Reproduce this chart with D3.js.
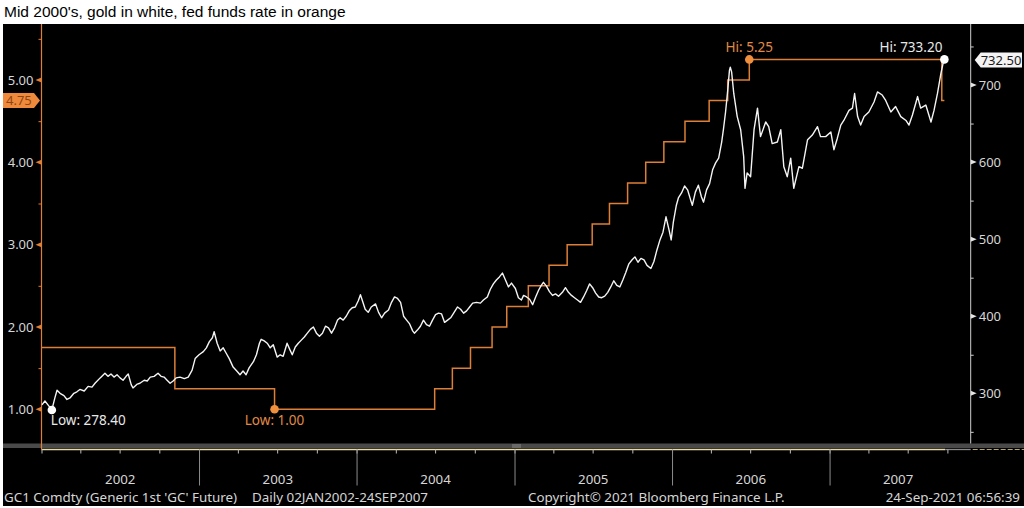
<!DOCTYPE html>
<html><head><meta charset="utf-8">
<script src="https://cdn.jsdelivr.net/npm/d3@7"></script>
<style>html,body{margin:0;padding:0;background:#fff;overflow:hidden}</style>
</head><body><svg id="c" width="1024" height="508"></svg>
<script>
const titleText = "Mid 2000's, gold in white, fed funds rate in orange";

const goldSeries = [
["2002-01-02",285],["2002-01-09",290],["2002-01-16",285],["2002-01-25",278.4],["2002-02-01",294],["2002-02-06",304],
["2002-02-13",300],["2002-02-22",297],["2002-03-01",292],["2002-03-08",294],["2002-03-17",300],["2002-03-24",302],
["2002-03-31",305],["2002-04-10",303],["2002-04-19",309],["2002-04-28",308],["2002-05-05",313],["2002-05-17",320],
["2002-05-28",326],["2002-06-04",322],["2002-06-11",325],["2002-06-18",321],["2002-06-25",324],["2002-07-02",320],
["2002-07-09",317],["2002-07-16",322],["2002-07-21",325],["2002-07-28",311],["2002-08-01",307],["2002-08-11",312],
["2002-08-17",313],["2002-08-27",317],["2002-09-03",316],["2002-09-10",321],["2002-09-19",322],["2002-09-28",326],
["2002-10-05",322],["2002-10-12",321],["2002-10-19",317],["2002-10-26",313],["2002-11-02",316],["2002-11-09",320],
["2002-11-18",321],["2002-11-28",319],["2002-12-07",321],["2002-12-16",330],["2002-12-23",345],
["2003-01-01",350],["2003-01-11",354],["2003-01-18",359],["2003-01-25",367],["2003-02-01",372],["2003-02-05",380],
["2003-02-12",365],["2003-02-19",355],["2003-02-26",359],["2003-03-05",352],["2003-03-12",345],["2003-03-21",334],
["2003-03-31",328],["2003-04-06",324],["2003-04-13",329],["2003-04-20",324],["2003-04-27",333],["2003-05-07",341],
["2003-05-14",350],["2003-05-21",365],["2003-05-25",370],["2003-06-01",368],["2003-06-08",365],["2003-06-15",359],
["2003-06-22",363],["2003-07-01",347],["2003-07-08",350],["2003-07-15",348],["2003-07-24",365],["2003-07-31",356],
["2003-08-05",350],["2003-08-12",360],["2003-08-19",365],["2003-08-26",369],["2003-09-02",373],["2003-09-09",378],
["2003-09-16",383],["2003-09-23",386],["2003-09-30",378],["2003-10-07",374],["2003-10-14",378],["2003-10-21",387],
["2003-10-28",385],["2003-11-04",378],["2003-11-11",385],["2003-11-18",395],["2003-11-24",398],["2003-12-01",395],
["2003-12-08",400],["2003-12-15",407],["2003-12-22",411],["2003-12-29",412],
["2004-01-05",420],["2004-01-10",428],["2004-01-14",421],["2004-01-21",409],["2004-01-28",405],["2004-02-04",412],
["2004-02-14",416],["2004-02-21",405],["2004-02-28",398],["2004-03-06",404],["2004-03-15",408],["2004-03-22",418],
["2004-03-29",425],["2004-04-05",423],["2004-04-12",418],["2004-04-19",400],["2004-04-26",395],["2004-05-03",390],
["2004-05-10",381],["2004-05-14",378],["2004-05-21",382],["2004-05-28",387],["2004-06-04",395],["2004-06-11",389],
["2004-06-18",387],["2004-06-25",395],["2004-07-02",402],["2004-07-09",404],["2004-07-16",403],["2004-07-23",392],
["2004-07-30",395],["2004-08-06",398],["2004-08-13",404],["2004-08-22",412],["2004-08-29",409],["2004-09-05",404],
["2004-09-12",407],["2004-09-19",412],["2004-09-26",417],["2004-10-05",418],["2004-10-14",417],["2004-10-21",421],
["2004-10-30",425],["2004-11-06",435],["2004-11-13",442],["2004-11-20",447],["2004-11-27",451],["2004-12-04",456],
["2004-12-11",447],["2004-12-18",438],["2004-12-25",443],
["2005-01-03",436],["2005-01-10",424],["2005-01-17",421],["2005-01-22",427],["2005-01-29",425],["2005-02-05",422],
["2005-02-12",415],["2005-02-19",425],["2005-02-26",434],["2005-03-04",440],["2005-03-09",444],["2005-03-16",439],
["2005-03-23",432],["2005-03-30",427],["2005-04-06",429],["2005-04-13",426],["2005-04-22",431],["2005-04-29",437],
["2005-05-06",431],["2005-05-13",427],["2005-05-20",424],["2005-05-27",421],["2005-06-03",418],["2005-06-10",425],
["2005-06-17",433],["2005-06-24",442],["2005-07-01",437],["2005-07-08",430],["2005-07-15",425],["2005-07-22",424],
["2005-07-29",426],["2005-08-05",431],["2005-08-12",438],["2005-08-19",446],["2005-08-26",440],["2005-09-02",438],
["2005-09-09",447],["2005-09-16",457],["2005-09-23",468],["2005-09-30",473],["2005-10-07",477],["2005-10-14",470],
["2005-10-21",475],["2005-10-28",473],["2005-11-04",466],["2005-11-13",462],["2005-11-20",471],["2005-11-27",486],
["2005-12-04",499],["2005-12-11",509],["2005-12-18",529],["2005-12-25",512],["2005-12-30",499],
["2006-01-04",522],["2006-01-11",544],["2006-01-16",554],["2006-01-23",560],["2006-01-30",569],["2006-02-06",564],
["2006-02-13",551],["2006-02-17",544],["2006-02-24",561],["2006-03-03",570],["2006-03-10",555],["2006-03-15",548],
["2006-03-22",564],["2006-03-29",572],["2006-04-05",590],["2006-04-12",599],["2006-04-19",605],["2006-04-26",626],
["2006-04-30",642],["2006-05-05",665],["2006-05-10",693],["2006-05-14",719],["2006-05-16",723],["2006-05-19",717],
["2006-05-24",689],["2006-06-01",659],["2006-06-09",642],["2006-06-16",607],["2006-06-19",566],["2006-06-24",586],
["2006-07-02",581],["2006-07-10",642],["2006-07-18",670],["2006-07-25",633],["2006-08-06",652],["2006-08-13",646],
["2006-08-21",624],["2006-09-02",626],["2006-09-10",642],["2006-09-17",594],["2006-09-25",581],["2006-10-03",605],
["2006-10-10",566],["2006-10-22",594],["2006-10-30",592],["2006-11-11",629],["2006-11-22",635],["2006-12-04",646],
["2006-12-11",633],["2006-12-23",633],
["2007-01-04",639],["2007-01-11",616],["2007-01-19",631],["2007-01-27",648],["2007-02-03",654],["2007-02-15",667],
["2007-02-23",670],["2007-02-28",689],["2007-03-07",659],["2007-03-14",648],["2007-03-22",659],["2007-04-02",665],
["2007-04-14",678],["2007-04-22",691],["2007-05-03",687],["2007-05-11",680],["2007-05-23",665],["2007-06-03",672],
["2007-06-15",659],["2007-06-27",654],["2007-07-04",648],["2007-07-12",661],["2007-07-24",685],["2007-07-31",670],
["2007-08-12",674],["2007-08-24",652],["2007-08-31",667],["2007-09-08",689],["2007-09-16",715],["2007-09-21",728],
["2007-09-24",732.5]
];

const fedDates = ["2002-01-01","2002-11-06","2003-06-25","2004-06-30","2004-08-10","2004-09-21","2004-11-10","2004-12-14",
"2005-02-02","2005-03-22","2005-05-03","2005-06-30","2005-08-09","2005-09-20","2005-11-01","2005-12-13",
"2006-01-31","2006-03-28","2006-05-10","2006-06-29","2007-09-18","2007-09-24"];
const fedRates = [1.75,1.25,1.00,1.25,1.50,1.75,2.00,2.25,2.50,2.75,3.00,3.25,3.50,3.75,4.00,4.25,4.50,4.75,5.00,5.25,4.75,4.75];

const leftTicks = [1,2,3,4,5];
const leftMinor = [1.5,2.5,3.5,4.5,5.5];
const rightTicks = [300,400,500,600,700];
const rightMinor = [250,350,450,550,650,750];
const yearLabels = ["2002","2003","2004","2005","2006","2007"];

const goldLow = {date:"2002-01-25", value:278.40, label:"Low: 278.40"};
const goldHi = {date:"2007-09-24", value:733.20, label:"Hi: 733.20"};
const goldLast = 732.50;
const fedLow = {date:"2003-06-25", value:1.00, label:"Low: 1.00"};
const fedHi = {date:"2006-06-29", value:5.25, label:"Hi: 5.25"};
const fedLast = 4.75;

const footerLeft = "GC1 Comdty (Generic 1st 'GC' Future)";
const footerRange = "Daily 02JAN2002-24SEP2007";
const footerCopy = "Copyright\u00A9 2021 Bloomberg Finance L.P.";
const footerStamp = "24-Sep-2021 06:56:39";

// ---------- drawing ----------
const parse = d3.utcParse("%Y-%m-%d");
const svg = d3.select("#c");
const FONT = "'Noto Sans', sans-serif";
const ORANGE = "#dd7f36";
const ORANGE_TXT = "#e08a45";
const GREY_TXT = "#d6d6d6";

const X0 = 41.5, X1 = 970.7, TOP = 24, BOT = 443.5;
const x = d3.scaleUtc().domain([parse("2002-01-01"), parse("2007-11-24")]).range([X0, X1]);
const yL = d3.scaleLinear().domain([1,5]).range([409.3, 80]);
const yR = d3.scaleLinear().domain([300,700]).range([393.3, 85]);

svg.append("text").attr("x",4).attr("y",17).attr("font-family","'Liberation Sans', Arial, sans-serif")
  .attr("font-size",15.5).attr("fill","#000").text(titleText);

svg.append("rect").attr("x",3).attr("y",TOP).attr("width",1021).attr("height",482).attr("fill","#000");

// bottom band
svg.append("rect").attr("x",3).attr("y",BOT).attr("width",1021).attr("height",4.5).attr("fill","#4a4a4a");
svg.append("line").attr("x1",X0).attr("x2",x(parse("2007-09-26"))).attr("y1",449.5).attr("y2",449.5)
  .attr("stroke","#e9dca6").attr("stroke-width",1.3);
svg.append("line").attr("x1",x(parse("2007-09-26"))).attr("x2",X1).attr("y1",449.5).attr("y2",449.5)
  .attr("stroke","#8a8a8a").attr("stroke-width",1.3);
svg.append("line").attr("x1",X1+2).attr("x2",1024).attr("y1",449.5).attr("y2",449.5)
  .attr("stroke","#b8a86a").attr("stroke-width",1).attr("stroke-dasharray","5,2");
[445,447].forEach(yy => svg.append("line").attr("x1",512).attr("x2",521).attr("y1",yy).attr("y2",yy)
  .attr("stroke","#9a9a9a").attr("stroke-width",0.8));

// x axis: quarter ticks and year dividers
const qAxis = d3.axisBottom(x).ticks(d3.utcMonth.every(3)).tickSize(4).tickFormat("");
const gq = svg.append("g").attr("transform","translate(0,449.5)").call(qAxis);
gq.select(".domain").remove();
gq.selectAll("line").attr("stroke","#bdbdbd");
const yearStarts = yearLabels.map(y => parse(y+"-01-01"));
const yAxisBottom = d3.axisBottom(x).tickValues(yearStarts.slice(1)).tickSize(36).tickFormat("");
const gy = svg.append("g").attr("transform","translate(0,449.5)").call(yAxisBottom);
gy.select(".domain").remove();
gy.selectAll("line").attr("stroke","#8c8c8c");
yearLabels.forEach((lab,i) => {
  const a = x(yearStarts[i]);
  const b = i < yearLabels.length-1 ? x(yearStarts[i+1]) : X1 - 4;
  svg.append("text").attr("x",(a+b)/2).attr("y",484).attr("text-anchor","middle")
    .attr("font-family",FONT).attr("font-size",13.3).attr("fill",GREY_TXT).text(lab);
});

// left axis
const gL = svg.append("g").attr("transform",`translate(${X0},0)`)
  .call(d3.axisLeft(yL).tickValues(leftTicks).tickFormat(d3.format(".2f")).tickSize(0).tickPadding(8));
gL.select(".domain").remove();
gL.selectAll("text").attr("font-family",FONT).attr("font-size",13).attr("fill",GREY_TXT);
leftTicks.forEach(v => svg.append("path")
  .attr("d",`M${X0},${yL(v)-2.5}L${X0},${yL(v)+2.5}L${X0-6},${yL(v)}Z`).attr("fill",ORANGE));
const gLm = svg.append("g").attr("transform",`translate(${X0},0)`)
  .call(d3.axisLeft(yL).tickValues(leftMinor).tickFormat("").tickSize(3));
gLm.select(".domain").remove();
gLm.selectAll("line").attr("stroke",ORANGE);
svg.append("line").attr("x1",X0).attr("x2",X0).attr("y1",TOP).attr("y2",449.5).attr("stroke",ORANGE).attr("stroke-width",1.2);

// right axis
const gR = svg.append("g").attr("transform",`translate(${X1},0)`)
  .call(d3.axisRight(yR).tickValues(rightTicks).tickFormat(d3.format("d")).tickSize(0).tickPadding(8));
gR.select(".domain").remove();
gR.selectAll("text").attr("font-family",FONT).attr("font-size",13).attr("fill",GREY_TXT);
rightTicks.forEach(v => svg.append("path")
  .attr("d",`M${X1},${yR(v)-2.5}L${X1},${yR(v)+2.5}L${X1+6},${yR(v)}Z`).attr("fill","#e6e6e6"));
const gRm = svg.append("g").attr("transform",`translate(${X1},0)`)
  .call(d3.axisRight(yR).tickValues(rightMinor).tickFormat("").tickSize(3));
gRm.select(".domain").remove();
gRm.selectAll("line").attr("stroke","#cfcfcf");
svg.append("line").attr("x1",X1).attr("x2",X1).attr("y1",TOP).attr("y2",BOT).attr("stroke","#cfcfcf").attr("stroke-width",1);

// series
svg.append("defs").append("clipPath").attr("id","plot").append("rect")
  .attr("x",X0).attr("y",TOP).attr("width",X1-X0).attr("height",BOT-TOP);
const plot = svg.append("g").attr("clip-path","url(#plot)");

const fedData = fedDates.map((d,i) => ({date:parse(d), v:fedRates[i]}));
plot.append("path").datum(fedData)
  .attr("d", d3.line().curve(d3.curveStepAfter).x(d=>x(d.date)).y(d=>yL(d.v)))
  .attr("fill","none").attr("stroke",ORANGE).attr("stroke-width",1.5);

const goldData = goldSeries.map(d => ({date:parse(d[0]), v:d[1]}));
plot.append("path").datum(goldData)
  .attr("d", d3.line().x(d=>x(d.date)).y(d=>yR(d.v)))
  .attr("fill","none").attr("stroke","#f4f4f4").attr("stroke-width",1.4).attr("stroke-linejoin","round");

// markers + labels
function marker(px, py, fill){
  svg.append("circle").attr("cx",px).attr("cy",py).attr("r",4.3).attr("fill",fill);
}
function label(txt, px, py, anchor, fill){
  svg.append("text").attr("x",px).attr("y",py).attr("text-anchor",anchor).attr("font-family",FONT)
    .attr("font-size",13.5).attr("fill",fill).text(txt);
}
marker(x(parse(fedLow.date)), yL(fedLow.value), "#f0903f");
label(fedLow.label, x(parse(fedLow.date)), yL(fedLow.value)+16, "middle", ORANGE_TXT);
marker(x(parse(fedHi.date)), yL(fedHi.value), "#f0903f");
label(fedHi.label, x(parse(fedHi.date)), yL(fedHi.value)-7, "middle", ORANGE_TXT);
marker(x(parse(goldLow.date)), yR(goldLow.value), "#ffffff");
label(goldLow.label, x(parse(goldLow.date))-1, yR(goldLow.value)+15.5, "start", "#e8e8e8");
marker(x(parse(goldHi.date)), yR(goldHi.value), "#ffffff");
label(goldHi.label, x(parse(goldHi.date))-2, yR(goldHi.value)-7.5, "end", "#e8e8e8");

// last-value tags
const ly = yL(fedLast);
svg.append("path").attr("d",`M3,${ly-7.5}L34,${ly-7.5}L40,${ly}L34,${ly+7.5}L3,${ly+7.5}Z`).attr("fill","#ef8a3c");
svg.append("text").attr("x",6).attr("y",ly+4.6).attr("font-family",FONT).attr("font-size",13).attr("fill","#8e4512")
  .text(d3.format(".2f")(fedLast));
const ry = yR(goldLast);
svg.append("path").attr("d",`M${X1+4},${ry}L${X1+10},${ry-7.5}L1022,${ry-7.5}L1022,${ry+7.5}L${X1+10},${ry+7.5}Z`).attr("fill","#f4f4f4");
svg.append("text").attr("x",X1+10).attr("y",ry+4.6).attr("font-family",FONT).attr("font-size",13).attr("fill","#1a1a1a")
  .text(d3.format(".2f")(goldLast));

// footer
const fy = 501.5, FS = 13.4;
svg.append("text").attr("x",4).attr("y",fy).attr("font-family",FONT).attr("font-size",FS).attr("fill",GREY_TXT).text(footerLeft);
svg.append("text").attr("x",252).attr("y",fy).attr("font-family",FONT).attr("font-size",FS).attr("fill",GREY_TXT).text(footerRange);
svg.append("text").attr("x",528).attr("y",fy).attr("font-family",FONT).attr("font-size",FS).attr("fill",GREY_TXT).text(footerCopy);
svg.append("text").attr("x",1020).attr("y",fy).attr("text-anchor","end").attr("font-family",FONT).attr("font-size",FS).attr("fill",GREY_TXT).text(footerStamp);
</script></body></html>
